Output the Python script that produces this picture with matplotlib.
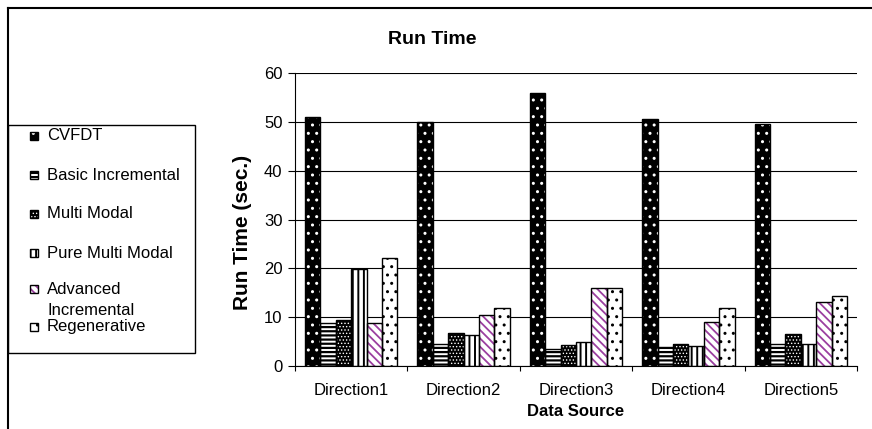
import numpy as np
import matplotlib
matplotlib.use("Agg")
import matplotlib.pyplot as plt
from matplotlib.patches import Rectangle
from matplotlib.lines import Line2D

plt.rcParams['font.family'] = ['Liberation Sans', 'DejaVu Sans']

# === Data ===
directions = ["Direction1", "Direction2", "Direction3", "Direction4", "Direction5"]
cvfdt = [51.0, 50.0, 55.9, 50.6, 49.7]
basic_inc = [8.8, 4.6, 3.5, 3.9, 4.5]
multi_modal = [9.4, 6.8, 4.3, 4.5, 6.5]
pure_multi_modal = [19.9, 6.4, 4.9, 4.1, 4.5]
advanced_inc = [8.8, 10.4, 16.0, 9.1, 13.1]
regenerative = [22.1, 11.8, 16.0, 11.8, 14.4]

series = [
    ("CVFDT", cvfdt),
    ("Basic Incremental", basic_inc),
    ("Multi Modal", multi_modal),
    ("Pure Multi Modal", pure_multi_modal),
    ("Advanced\nIncremental", advanced_inc),
    ("Regenerative", regenerative),
]

# face colour, hatch colour, hatch, hatch line width
styles = [
    ("black", "white", "..", 1.0),
    ("white", "black", "----", 1.6),
    ("black", "white", ".....", 0.6),
    ("white", "black", "|||", 1.4),
    ("white", "#9B3FA0", "\\\\\\\\", 1.3),
    ("white", "black", "..", 1.0),
]

W, H = 872, 429
fig = plt.figure(figsize=(W / 100, H / 100), dpi=100)
ax = fig.add_axes([295 / W, 1 - 366 / H, (857 - 295) / W, (366 - 73.3) / H])

x = np.arange(len(directions))
bw = 0.137
offsets = (np.arange(len(series)) - (len(series) - 1) / 2) * bw

for (name, vals), (fc, hc, hatch, hlw), off in zip(series, styles, offsets):
    with plt.rc_context({"hatch.linewidth": hlw}):
        ax.bar(x + off, vals, width=bw, color=fc, edgecolor=hc, hatch=hatch,
               linewidth=0, zorder=2)
    ax.bar(x + off, vals, width=bw, fill=False, edgecolor="black",
           linewidth=1.0, zorder=3)

# === Axes ===
ax.set_xlim(-0.5, len(directions) - 0.5)
ax.set_ylim(0, 60)
ax.set_yticks(range(0, 61, 10))
ax.yaxis.grid(True, color="black", linewidth=0.8, zorder=0)
ax.set_axisbelow(True)
for s in ["top", "right"]:
    ax.spines[s].set_visible(False)
ax.spines["left"].set_linewidth(0.8)
ax.spines["bottom"].set_linewidth(0.8)

ax.set_xticks(x)
ax.set_xticklabels(directions, fontsize=12)
ax.set_xticks(np.arange(-0.5, len(directions)), minor=True)
ax.tick_params(axis="x", which="major", length=0, pad=12)
ax.tick_params(axis="x", which="minor", length=3.5, width=0.8, direction="out")
ax.tick_params(axis="y", length=5, width=0.8, pad=4, labelsize=12)

ax.set_xlabel("Data Source", fontsize=12, fontweight="bold", va="center")
ax.xaxis.set_label_coords(0.5, -(412 - 366) / (366 - 73.3))
ax.set_ylabel("Run Time (sec.)", fontsize=15, fontweight="bold", va="center")
ax.yaxis.set_label_coords((242 - 295) / (857 - 295), (366 - 232) / (366 - 73.3))

fig.text(432 / W, 1 - 39 / H, "Run Time", ha="center", va="center",
         fontsize=14, fontweight="bold")

# === Outer frame (cropped on right/bottom) ===
fig.add_artist(Line2D([7.5 / W, 1], [1 - 7.5 / H] * 2, color="black", lw=1.5,
                      transform=fig.transFigure))
fig.add_artist(Line2D([7.5 / W] * 2, [0, 1 - 7.5 / H], color="black", lw=1.5,
                      transform=fig.transFigure))

# === Legend (drawn by hand, Excel-style) ===
fig.add_artist(Rectangle((8 / W, 1 - 353 / H), (195 - 8) / W, (353 - 125) / H,
                         transform=fig.transFigure, facecolor="white",
                         edgecolor="black", linewidth=1.0))
entry_y = [136, 175, 214, 253, 289, 327]
text_y = [136, 175, 214, 253, 300, 327]
for (name, _), (fc, hc, hatch, hlw), ey, ty in zip(series, styles, entry_y, text_y):
    with plt.rc_context({"hatch.linewidth": hlw}):
        fig.add_artist(Rectangle((30 / W, 1 - (ey + 4) / H), 8 / W, 8 / H,
                                 transform=fig.transFigure, facecolor=fc,
                                 edgecolor=hc, hatch=hatch, linewidth=0))
    fig.add_artist(Rectangle((30 / W, 1 - (ey + 4) / H), 8 / W, 8 / H,
                             transform=fig.transFigure, fill=False,
                             edgecolor="black", linewidth=1.0))
    fig.text(47 / W, 1 - ty / H, name, ha="left", va="center", fontsize=12,
             linespacing=1.5)

fig.savefig("out.png", dpi=100)
